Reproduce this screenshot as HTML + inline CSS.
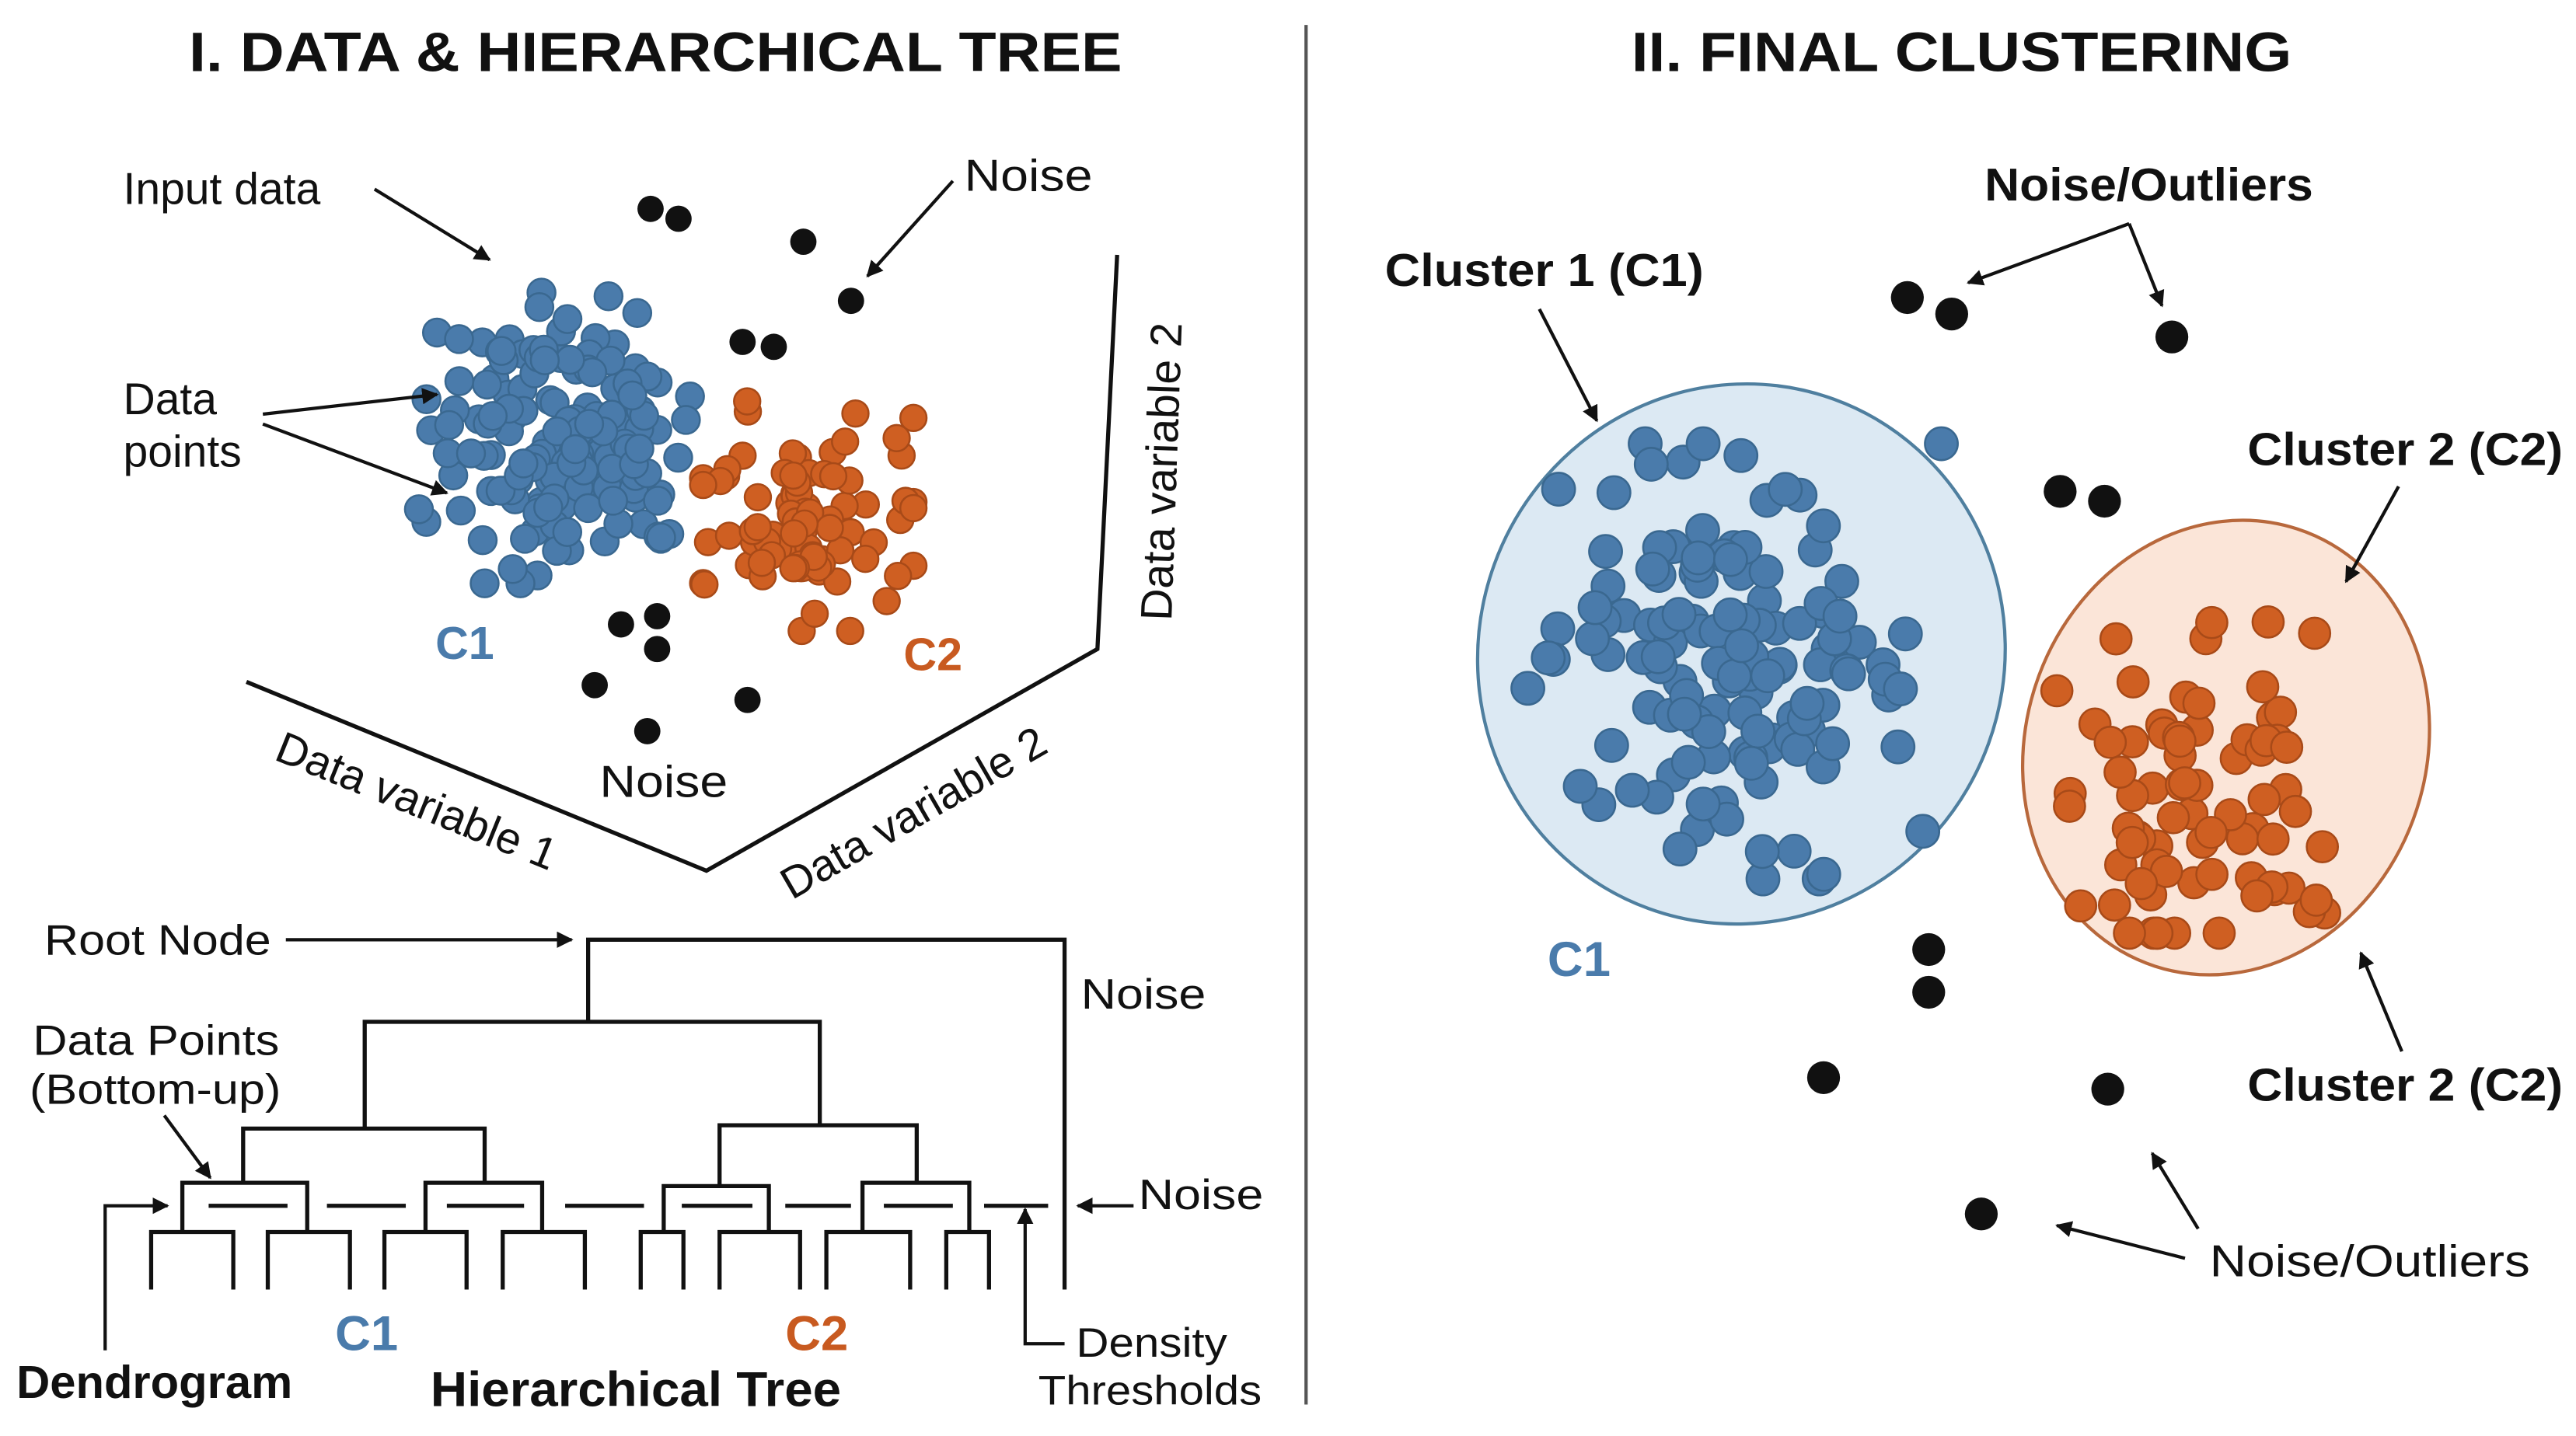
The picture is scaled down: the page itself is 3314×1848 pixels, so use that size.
<!DOCTYPE html>
<html><head><meta charset="utf-8"><style>
html,body{margin:0;padding:0;background:#fff;}
svg{display:block;}
text{font-family:"Liberation Sans",sans-serif;fill:#111;}
.b{font-weight:bold;}
</style></head><body>
<svg id="s" width="3314" height="1848" viewBox="0 0 1568 874" xmlns="http://www.w3.org/2000/svg">
<defs>
<marker id="a" markerWidth="10" markerHeight="10" refX="9" refY="5" orient="auto" markerUnits="userSpaceOnUse"><path d="M0,0 L10,5 L0,10 Z" fill="#111"/></marker>
</defs>
<rect width="1568" height="874" fill="#fff"/>
<text x="115" y="43" font-size="34" class="b" textLength="568" lengthAdjust="spacingAndGlyphs">I. DATA &amp; HIERARCHICAL TREE</text>
<text x="993" y="43" font-size="34" class="b" textLength="402" lengthAdjust="spacingAndGlyphs">II. FINAL CLUSTERING</text>
<line x1="795" y1="15" x2="795" y2="855" stroke="#555" stroke-width="2"/>

<polyline points="150,415 430,530 668,395 680,155" fill="none" stroke="#111" stroke-width="2.5"/>
<text x="0" y="0" font-size="27" transform="translate(166,462) rotate(22)">Data variable 1</text>
<text x="0" y="0" font-size="27" transform="translate(482,548) rotate(-30)">Data variable 2</text>
<text x="0" y="0" font-size="27" transform="translate(713,378) rotate(-88)">Data variable 2</text>

<g id="left"></g>
<g id="right">
<ellipse cx="1060" cy="398" rx="160" ry="165" transform="rotate(20 1060 398)" fill="#dce9f3" stroke="#4f7f9f" stroke-width="2"/>
<ellipse cx="1355" cy="455" rx="122" ry="140" transform="rotate(18 1355 455)" fill="#fbe5d8" stroke="#b8683c" stroke-width="2"/>
</g>

<text x="75" y="124" font-size="27">Input data</text>
<line x1="228" y1="115" x2="298" y2="158" stroke="#111" stroke-width="2" marker-end="url(#a)"/>
<text x="75" y="252" font-size="27">Data</text>
<text x="75" y="284" font-size="27">points</text>
<line x1="160" y1="252" x2="266" y2="240" stroke="#111" stroke-width="2" marker-end="url(#a)"/>
<line x1="160" y1="258" x2="272" y2="300" stroke="#111" stroke-width="2" marker-end="url(#a)"/>
<text x="587" y="116" font-size="27" textLength="78" lengthAdjust="spacingAndGlyphs">Noise</text>
<line x1="580" y1="110" x2="528" y2="168" stroke="#111" stroke-width="2" marker-end="url(#a)"/>
<text x="365" y="485" font-size="27" textLength="78" lengthAdjust="spacingAndGlyphs">Noise</text>
<text x="265" y="401" font-size="28" class="b" style="fill:#4a7bab">C1</text>
<text x="550" y="408" font-size="28" class="b" style="fill:#c85a20">C2</text>

<g stroke="#111" stroke-width="2.5" fill="none">
<polyline points="358,622 358,572 648,572 648,785"/>
<polyline points="222,687 222,622 499,622 499,685"/>
<polyline points="148,720 148,687 295,687 295,720"/>
<polyline points="438,722 438,685 558,685 558,720"/>
<polyline points="111,750 111,720 187,720 187,750"/>
<polyline points="259,750 259,720 330,720 330,750"/>
<polyline points="404,750 404,722 468,722 468,750"/>
<polyline points="525,750 525,720 590,720 590,750"/>
<polyline points="92,785 92,750 142,750 142,785"/>
<polyline points="163,785 163,750 213,750 213,785"/>
<polyline points="234,785 234,750 284,750 284,785"/>
<polyline points="306,785 306,750 356,750 356,785"/>
<polyline points="390,785 390,750 416,750 416,785"/>
<polyline points="438,785 438,750 487,750 487,785"/>
<polyline points="503,785 503,750 554,750 554,785"/>
<polyline points="576,785 576,750 602,750 602,785"/>
</g>
<g stroke="#111" stroke-width="2.5">
<line x1="127" y1="734" x2="175" y2="734"/><line x1="199" y1="734" x2="247" y2="734"/>
<line x1="272" y1="734" x2="319" y2="734"/><line x1="344" y1="734" x2="392" y2="734"/>
<line x1="415" y1="734" x2="458" y2="734"/><line x1="478" y1="734" x2="518" y2="734"/>
<line x1="538" y1="734" x2="580" y2="734"/><line x1="599" y1="734" x2="638" y2="734"/>
</g>
<text x="27" y="581" font-size="26" textLength="138" lengthAdjust="spacingAndGlyphs">Root Node</text>
<line x1="174" y1="572" x2="348" y2="572" stroke="#111" stroke-width="2" marker-end="url(#a)"/>
<text x="658" y="614" font-size="26" textLength="76" lengthAdjust="spacingAndGlyphs">Noise</text>
<text x="20" y="642" font-size="26" textLength="150" lengthAdjust="spacingAndGlyphs">Data Points</text>
<text x="18" y="672" font-size="26" textLength="153" lengthAdjust="spacingAndGlyphs">(Bottom-up)</text>
<line x1="100" y1="679" x2="128" y2="717" stroke="#111" stroke-width="2" marker-end="url(#a)"/>
<polyline points="64,822 64,734 102,734" fill="none" stroke="#111" stroke-width="2" marker-end="url(#a)"/>
<text x="693" y="736" font-size="26" textLength="76" lengthAdjust="spacingAndGlyphs">Noise</text>
<line x1="690" y1="734" x2="656" y2="734" stroke="#111" stroke-width="2" marker-end="url(#a)"/>
<polyline points="648,818 624,818 624,736" fill="none" stroke="#111" stroke-width="2" marker-end="url(#a)"/>
<text x="655" y="826" font-size="25" textLength="92" lengthAdjust="spacingAndGlyphs">Density</text>
<text x="632" y="855" font-size="25" textLength="136" lengthAdjust="spacingAndGlyphs">Thresholds</text>
<text x="204" y="822" font-size="30" class="b" style="fill:#4a7bab">C1</text>
<text x="478" y="822" font-size="30" class="b" style="fill:#c85a20">C2</text>
<text x="10" y="851" font-size="28" class="b" textLength="168" lengthAdjust="spacingAndGlyphs">Dendrogram</text>
<text x="262" y="856" font-size="30" class="b" textLength="250" lengthAdjust="spacingAndGlyphs">Hierarchical Tree</text>

<text x="1208" y="122" font-size="28" class="b" textLength="200" lengthAdjust="spacingAndGlyphs">Noise/Outliers</text>
<line x1="1296" y1="136" x2="1198" y2="172" stroke="#111" stroke-width="2" marker-end="url(#a)"/>
<line x1="1296" y1="136" x2="1316" y2="186" stroke="#111" stroke-width="2" marker-end="url(#a)"/>
<text x="843" y="174" font-size="28" class="b" textLength="194" lengthAdjust="spacingAndGlyphs">Cluster 1 (C1)</text>
<line x1="937" y1="188" x2="972" y2="256" stroke="#111" stroke-width="2" marker-end="url(#a)"/>
<text x="1368" y="283" font-size="28" class="b" textLength="192" lengthAdjust="spacingAndGlyphs">Cluster 2 (C2)</text>
<line x1="1460" y1="296" x2="1428" y2="354" stroke="#111" stroke-width="2" marker-end="url(#a)"/>
<text x="1368" y="670" font-size="28" class="b" textLength="192" lengthAdjust="spacingAndGlyphs">Cluster 2 (C2)</text>
<line x1="1462" y1="640" x2="1437" y2="580" stroke="#111" stroke-width="2" marker-end="url(#a)"/>
<text x="942" y="594" font-size="30" class="b" style="fill:#4a7bab">C1</text>
<text x="1345" y="777" font-size="27" textLength="195" lengthAdjust="spacingAndGlyphs">Noise/Outliers</text>
<line x1="1338" y1="748" x2="1310" y2="702" stroke="#111" stroke-width="2" marker-end="url(#a)"/>
<line x1="1330" y1="766" x2="1252" y2="746" stroke="#111" stroke-width="2" marker-end="url(#a)"/>
</svg>
<script>
(function(){
var s=12345;function r(){s=(s*1103515245+12345)%2147483648;return s/2147483648;}
function g(){var u=r()||1e-6,v=r();return Math.sqrt(-2*Math.log(u))*Math.cos(2*Math.PI*v);}
var NS="http://www.w3.org/2000/svg";
function c(p,x,y,rad,f,st){var e=document.createElementNS(NS,"circle");e.setAttribute("cx",x.toFixed(1));e.setAttribute("cy",y.toFixed(1));e.setAttribute("r",rad);e.setAttribute("fill",f);if(st){e.setAttribute("stroke",st);e.setAttribute("stroke-width","1.2");}p.appendChild(e);}
var L=document.getElementById("left"),R=document.getElementById("right");
var B="#4a7bab",BS="#3a6890",O="#cf5f22",OS="#a84a18";
for(var i=0;i<150;i++){var x=342+g()*40,y=265+g()*42;c(L,Math.max(255,Math.min(420,x)),Math.max(178,Math.min(355,y)),8.5,B,BS);}
for(var i=0;i<85;i++){var x=490+g()*34,y=318+g()*32;c(L,Math.max(428,Math.min(556,x)),Math.max(232,Math.min(384,y)),8,O,OS);}
for(var i=0;i<130;i++){var x=1058+g()*55,y=405+g()*58;c(R,Math.max(930,Math.min(1185,x)),Math.max(270,Math.min(535,y)),10,B,BS);}
for(var i=0;i<75;i++){var x=1335+g()*50,y=470+g()*55;c(R,Math.max(1252,Math.min(1450,x)),Math.max(345,Math.min(568,y)),9.5,O,OS);}
var bl=[[396,127],[413,133],[489,147],[518,183],[452,208],[471,211],[378,380],[400,375],[400,395],[362,417],[455,426],[394,445]];
bl.forEach(function(p){c(L,p[0],p[1],8,"#111");});
var br=[[1161,181],[1188,191],[1322,205],[1254,299],[1281,305],[1174,578],[1174,604],[1110,656],[1283,663],[1206,739]];
br.forEach(function(p){c(R,p[0],p[1],10,"#111");});
})();
</script>
</body></html>
